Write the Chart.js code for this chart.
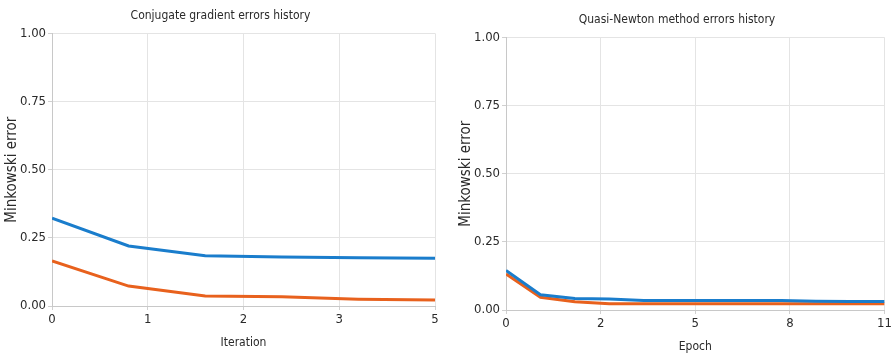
<!DOCTYPE html>
<html>
<head>
<meta charset="utf-8">
<script src="https://cdn.jsdelivr.net/npm/chart.js@4/dist/chart.umd.min.js"></script>
<style>
html,body{margin:0;padding:0;background:#fff;}
#wrap{width:894px;height:355px;position:relative;}
.c{position:absolute;top:0;}
</style>
</head>
<body>
<div id="wrap">
<div class="c" style="left:0;width:447px;height:355px;"><canvas id="c1" width="447" height="355"></canvas></div>
<div class="c" style="left:447px;width:447px;height:355px;"><canvas id="c2" width="447" height="355"></canvas></div>
</div>
<script>
// Left chart: Conjugate gradient
const cgTitle = "Conjugate gradient errors history";
const cgXTitle = "Iteration";
const cgIterations = [0, 1, 2, 3, 4, 5];
const cgTraining = [0.322, 0.220, 0.184, 0.180, 0.177, 0.175];
const cgSelection = [0.165, 0.073, 0.037, 0.034, 0.025, 0.022];
const cgXTicks = [0, 1.25, 2.5, 3.75, 5];

// Right chart: Quasi-Newton
const qnTitle = "Quasi-Newton method errors history";
const qnXTitle = "Epoch";
const qnEpochs = [0, 1, 2, 3, 4, 5, 6, 7, 8, 9, 10, 11];
const qnTraining = [0.145, 0.056, 0.042, 0.040, 0.035, 0.035, 0.035, 0.035, 0.035, 0.032, 0.031, 0.031];
const qnSelection = [0.132, 0.047, 0.030, 0.023, 0.023, 0.023, 0.023, 0.023, 0.023, 0.023, 0.023, 0.023];
const qnXTicks = [0, 2.75, 5.5, 8.25, 11];

const yTicks = [0, 0.25, 0.5, 0.75, 1];
const yTitle = "Minkowski error";

const BLUE = "#1a7dcc";
const ORANGE = "#e8611d";
const FONT = "'DejaVu Sans Condensed', 'DejaVu Sans', sans-serif";

function toPts(xs, ys){ return xs.map((x,i)=>({x:x, y:ys[i]})); }

function makeChart(id, title, xTitle, xs, s1, s2, xTicks, pad, titleTop){
  new Chart(document.getElementById(id), {
    type: 'line',
    data: {
      datasets: [
        {data: toPts(xs, s1), borderColor: BLUE, borderWidth: 3, pointRadius: 0, tension: 0, fill: false},
        {data: toPts(xs, s2), borderColor: ORANGE, borderWidth: 3, pointRadius: 0, tension: 0, fill: false}
      ]
    },
    options: {
      responsive: false,
      animation: false,
      layout: {padding: pad},
      plugins: {
        legend: {display: false},
        tooltip: {enabled: false},
        title: {display: true, text: title, color: '#2a2a2a', font: {family: FONT, size: 12, weight: 'normal'}, padding: {top: titleTop, bottom: 10}}
      },
      scales: {
        x: {
          type: 'linear',
          min: xTicks[0], max: xTicks[xTicks.length-1],
          afterBuildTicks: (ax) => { ax.ticks = xTicks.map(v => ({value: v})); },
          ticks: {color: '#2a2a2a', font: {family: FONT, size: 13}, padding: 2, maxRotation: 0, autoSkip: false,
                  callback: (v) => String(Math.floor(v))},
          grid: {color: '#e4e4e4', tickLength: 4, tickColor: '#d0d0d0'},
          border: {color: '#c8c8c8'},
          title: {display: true, text: xTitle, color: '#2a2a2a', font: {family: FONT, size: 12}, padding: {top: 6, bottom: 0}}
        },
        y: {
          min: 0, max: 1,
          afterBuildTicks: (ax) => { ax.ticks = yTicks.map(v => ({value: v})); },
          ticks: {color: '#2a2a2a', font: {family: FONT, size: 13}, padding: 2,
                  callback: (v) => Number(v).toFixed(2)},
          grid: {color: '#e4e4e4', tickLength: 4, tickColor: '#d0d0d0'},
          border: {color: '#c8c8c8'},
          title: {display: true, text: yTitle, color: '#2a2a2a', font: {family: FONT, size: 15, lineHeight: 0.8}, padding: {top: 0, bottom: 0}}
        }
      }
    }
  });
}

makeChart('c1', cgTitle, cgXTitle, cgIterations, cgTraining, cgSelection, cgXTicks, {left: 6, right: 12, top: 0, bottom: 5}, 9);
makeChart('c2', qnTitle, qnXTitle, qnEpochs, qnTraining, qnSelection, qnXTicks, {left: 13, right: 0, top: 7, bottom: 1}, 6);
</script>
</body>
</html>
